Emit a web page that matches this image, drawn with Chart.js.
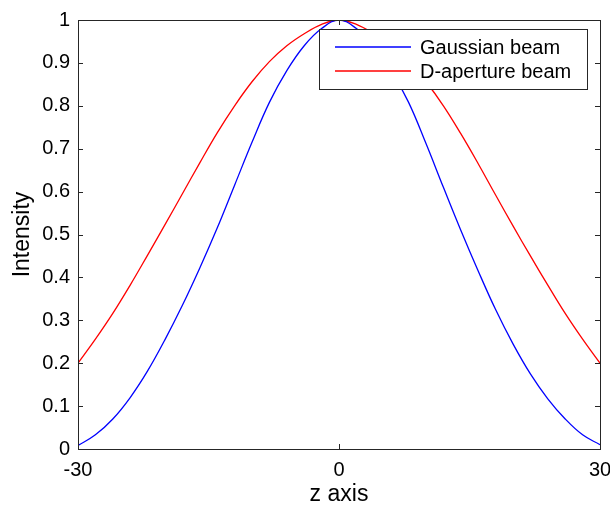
<!DOCTYPE html>
<html>
<head>
<meta charset="utf-8">
<script src="https://cdn.jsdelivr.net/npm/chart.js@4/dist/chart.umd.min.js"></script>
<style>
  html, body { margin: 0; padding: 0; background: #fff; }
  #wrap { width: 610px; height: 508px; }
</style>
</head>
<body>
<div id="wrap"><canvas id="beamChart" width="610" height="508"></canvas></div>
<script>
// values
const zValues = [-30, -28, -26, -24, -22, -20, -18, -16, -14, -12, -10, -8, -6, -4, -2, 0,
                 2, 4, 6, 8, 10, 12, 14, 16, 18, 20, 22, 24, 26, 28, 30];
const gaussianBeam = [0.008, 0.033, 0.07, 0.12, 0.182, 0.255, 0.335, 0.422, 0.515, 0.615, 0.715, 0.808, 0.882, 0.94, 0.98, 1.0,
                      0.98, 0.94, 0.882, 0.808, 0.712, 0.61, 0.51, 0.415, 0.325, 0.245, 0.175, 0.117, 0.07, 0.033, 0.01];
const dApertureBeam = [0.2, 0.256, 0.316, 0.382, 0.452, 0.523, 0.595, 0.667, 0.737, 0.8, 0.856, 0.903, 0.94, 0.968, 0.99, 1.0,
                       0.99, 0.968, 0.94, 0.903, 0.856, 0.8, 0.735, 0.665, 0.592, 0.52, 0.45, 0.382, 0.316, 0.256, 0.2];
const seriesNames = ["Gaussian beam", "D-aperture beam"];
const seriesColors = ["#0000ff", "#ff0000"];
const yTickLabels = ["0", "0.1", "0.2", "0.3", "0.4", "0.5", "0.6", "0.7", "0.8", "0.9", "1"];
const xTickLabels = { "-30": "-30", "0": "0", "30": "30" };

const FONT = "Arial, 'Liberation Sans', sans-serif";
const AXIS_COLOR = "#262626";

function toPoints(ys) {
  return zValues.map((z, i) => ({ x: z, y: ys[i] }));
}

// box round the plot, inward ticks on all four sides, legend in the corner
const matlabBox = {
  id: "matlabBox",
  afterDatasetsDraw(chart) {
    const { ctx, chartArea: a, scales } = chart;
    const tl = 5;
    ctx.save();
    ctx.strokeStyle = AXIS_COLOR;
    ctx.lineWidth = 1;
    ctx.beginPath();
    scales.y.ticks.forEach(t => {
      const py = Math.round(scales.y.getPixelForValue(t.value)) + 0.5;
      ctx.moveTo(a.left, py); ctx.lineTo(a.left + tl, py);
      ctx.moveTo(a.right, py); ctx.lineTo(a.right - tl, py);
    });
    scales.x.ticks.forEach(t => {
      const px = Math.round(scales.x.getPixelForValue(t.value)) + 0.5;
      ctx.moveTo(px, a.bottom); ctx.lineTo(px, a.bottom - tl);
      ctx.moveTo(px, a.top); ctx.lineTo(px, a.top + tl);
    });
    ctx.stroke();
    ctx.strokeRect(Math.round(a.left) + 0.5, Math.round(a.top) + 0.5,
                   Math.round(a.right - a.left), Math.round(a.bottom - a.top));

    // legend
    const bx = 319.5, by = 29.5, bw = 268, bh = 60;
    ctx.fillStyle = "#fff";
    ctx.fillRect(bx, by, bw, bh);
    ctx.strokeStyle = AXIS_COLOR;
    ctx.strokeRect(bx, by, bw, bh);
    ctx.font = "20px " + FONT;
    ctx.textBaseline = "middle";
    chart.data.datasets.forEach((ds, i) => {
      const ry = 47 + i * 24;
      ctx.strokeStyle = ds.borderColor;
      ctx.lineWidth = 1.3;
      ctx.beginPath();
      ctx.moveTo(335, ry); ctx.lineTo(411, ry);
      ctx.stroke();
      ctx.fillStyle = "#000";
      ctx.fillText(ds.label, 420, ry + 1);
    });
    ctx.restore();
  }
};

const ctx = document.getElementById("beamChart").getContext("2d");

const beamChart = new Chart(ctx, {
  type: "line",
  data: {
    datasets: [
      { label: seriesNames[0], data: toPoints(gaussianBeam), borderColor: seriesColors[0] },
      { label: seriesNames[1], data: toPoints(dApertureBeam), borderColor: seriesColors[1] }
    ]
  },
  options: {
    responsive: false,
    animation: false,
    devicePixelRatio: 1,
    layout: { padding: { top: 16, right: 10, left: 0, bottom: 0 } },
    elements: {
      point: { radius: 0 },
      line: { borderWidth: 1.3, tension: 0.4, fill: false }
    },
    plugins: {
      legend: { display: false },
      tooltip: { enabled: false }
    },
    scales: {
      x: {
        type: "linear",
        min: -30, max: 30,
        border: { display: false },
        grid: { display: false, drawTicks: false },
        afterFit(s) {
          s.height = 59;
          s.paddingLeft = 0;
          s.paddingRight = 0;
        },
        ticks: {
          stepSize: 30,
          padding: 9,
          color: "#000",
          font: { size: 20, family: FONT },
          maxRotation: 0,
          callback: v => xTickLabels[String(v)]
        },
        title: {
          display: true, text: "z axis", color: "#000",
          font: { size: 23, family: FONT }, padding: { top: 0, bottom: 0 }
        }
      },
      y: {
        min: 0, max: 1,
        border: { display: false },
        grid: { display: false, drawTicks: false },
        afterFit(s) { s.width = 78; },
        ticks: {
          stepSize: 0.1,
          padding: 8,
          color: "#000",
          font: { size: 20, family: FONT },
          callback: (v, i) => yTickLabels[i]
        },
        title: {
          display: true, text: "Intensity", color: "#000",
          font: { size: 23, family: FONT }, padding: { top: 9, bottom: 0 }
        }
      }
    }
  },
  plugins: [matlabBox]
});
</script>
</body>
</html>
